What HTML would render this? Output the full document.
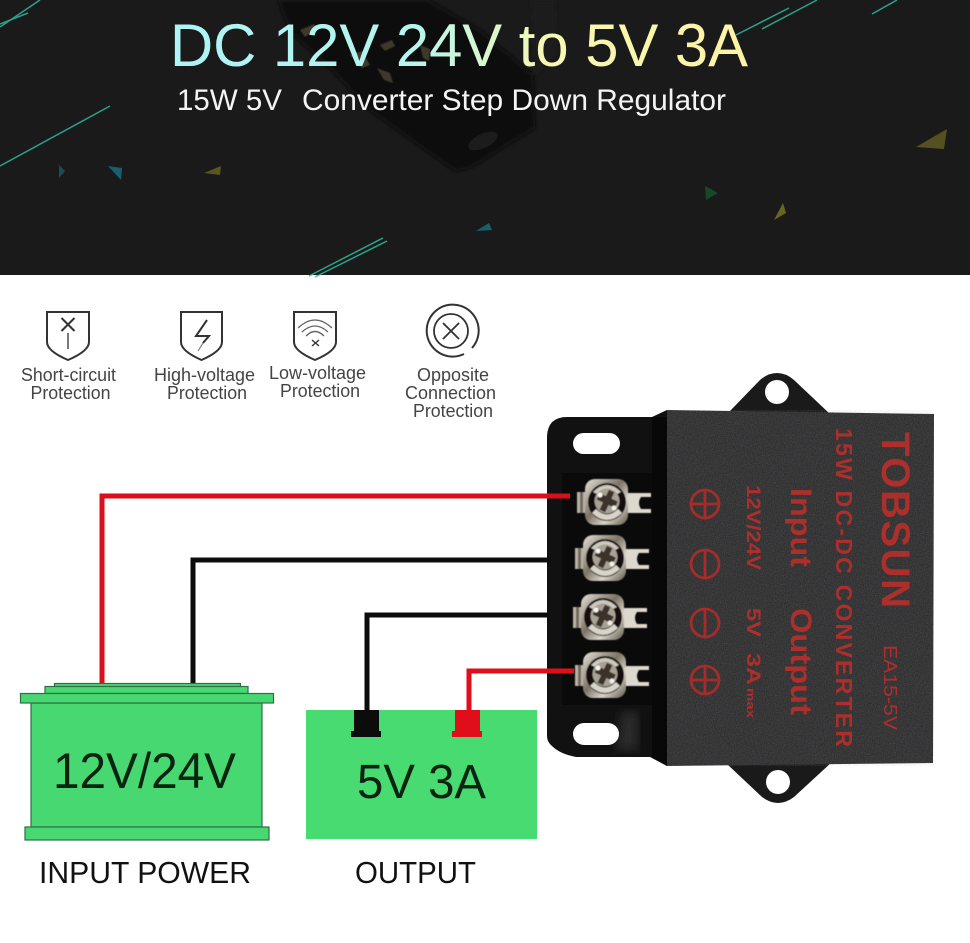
<!DOCTYPE html>
<html><head><meta charset="utf-8"><title>DC 12V 24V to 5V 3A</title>
<style>html,body{margin:0;padding:0;background:#fff}svg{display:block}
text{font-family:"Liberation Sans",sans-serif}</style></head>
<body>
<svg width="970" height="943" viewBox="0 0 970 943" xmlns="http://www.w3.org/2000/svg">
<defs>
<linearGradient id="tg" gradientUnits="userSpaceOnUse" x1="170" y1="0" x2="748" y2="0">
<stop offset="0" stop-color="#aef3f6"/><stop offset=".42" stop-color="#b6f5ee"/><stop offset=".65" stop-color="#f6f8b4"/><stop offset="1" stop-color="#fdf3a4"/></linearGradient>
<filter id="sp" x="0" y="0" width="100%" height="100%"><feTurbulence type="fractalNoise" baseFrequency=".9" numOctaves="2" seed="4"/><feColorMatrix values="0 0 0 0 .4 0 0 0 0 .4 0 0 0 0 .42 0 0 0 .35 -.1"/></filter>
<filter id="b1"><feGaussianBlur stdDeviation=".5"/></filter>
<filter id="b3"><feGaussianBlur stdDeviation="2"/></filter>
<filter id="b6"><feGaussianBlur stdDeviation="5"/></filter>
<linearGradient id="mt" x1="0" y1="0" x2="1" y2="1"><stop offset="0" stop-color="#e6e2d8"/><stop offset=".45" stop-color="#7d7365"/><stop offset=".7" stop-color="#d8d4ca"/><stop offset="1" stop-color="#5d5448"/></linearGradient>
<g id="term" filter="url(#b1)">
<rect x="-30" y="-10" width="13" height="21" fill="#b9b2a5"/>
<rect x="-27" y="-10" width="3" height="21" fill="#6f675b"/>
<path d="M20 -9H44V-5H34Q30 1 34 7H44V11H20Z" fill="#ddd9cf"/>
<rect x="-22" y="-23" width="43" height="46" rx="10" fill="url(#mt)"/>
<circle cx="0" cy="0" r="19" fill="#15110e"/>
<path d="M-15 11Q0 25 15 11L11 7Q0 18 -11 7Z" fill="#d8d4ca"/>
<path d="M-14 -10Q0 -24 14 -10L10 -8Q0 -18 -10 -8Z" fill="#cfcabf"/>
<circle cx="0" cy="-1" r="12.500" fill="#a8a295"/>
<path d="M-3 -12H3V-5H10V2H3V10H-3V2H-10V-5H-3Z" fill="#3a332b" transform="rotate(25 0 -1)"/>
<circle cx="-7" cy="-7" r="2.500" fill="#f6f4ee"/>
<circle cx="7" cy="6" r="2.500" fill="#f2efe8"/>
</g>
<g id="plus" fill="none" stroke="#a52c2a" stroke-width="2.800"><circle r="14"/><path d="M-14 0H14M0 -14V14"/></g>
<g id="minus" fill="none" stroke="#a52c2a" stroke-width="2.800"><circle r="14"/><path d="M0 -14V14"/></g>
</defs>

<!-- header -->
<rect width="970" height="275" fill="#1a1a1a"/>
<g filter="url(#b3)">
<path d="M532 0L555 0L556 55L535 75Z" fill="#1f1f1f"/>
<path d="M278 0L290 32L330 68L372 112L455 171L470 168L535 128L533 75L480 30L428 0Z" fill="#101010"/>
</g>
<ellipse cx="483" cy="141" rx="16" ry="7" fill="#1c1c1c" transform="rotate(-25 483 141)"/>
<g fill="#7a6e55" opacity=".45" filter="url(#b1)">
<path d="M300 30l14-6 3 5-12 8z"/><path d="M350 55l12-4 8 14-8 3z"/><path d="M380 45l12-5 3 6-10 5z"/>
<path d="M377 68l13 5 3 10-9-3z"/><path d="M420 45l10 4-1 12-6-3z"/>
</g>
<g stroke="#2fb096" stroke-width="1.500" fill="none" opacity=".9">
<path d="M0 166L110 106"/><path d="M309 276L383 238"/><path d="M315 277L387 241"/>
<path d="M762 29L817 0"/><path d="M736 35L789 8"/><path d="M872 14L897 0"/>
<path d="M0 27L40 0"/><path d="M0 24L28 13"/>
</g>
<path d="M916 147L947 129L944 149Z" fill="#55501f"/>
<path d="M59 165L65 171L59 178Z" fill="#174f58"/>
<path d="M108 166L122 168L121 180Z" fill="#17606b"/>
<path d="M204 173L221 166L220 175Z" fill="#5b5522"/>
<path d="M705 186L718 193L706 200Z" fill="#17482a"/>
<path d="M783 203L786 213L774 220Z" fill="#6a6524"/>
<path d="M476 231L489 223L492 230Z" fill="#17606b"/>
<text x="170" y="66" font-size="60" fill="url(#tg)" textLength="578" lengthAdjust="spacingAndGlyphs">DC 12V 24V to 5V 3A</text>
<text x="177" y="110" font-size="30" fill="#f4f4f4" textLength="105" lengthAdjust="spacingAndGlyphs">15W 5V</text>
<text x="302" y="110" font-size="30" fill="#f4f4f4" textLength="424" lengthAdjust="spacingAndGlyphs">Converter Step Down Regulator</text>

<!-- icons -->
<g fill="none" stroke="#333" stroke-width="2">
<path d="M47 312H89V342Q89 351 68 360Q47 351 47 342Z"/>
<path d="M61.500 318L74.500 331M74.500 318L61.500 331"/>
<path d="M68 333V349" stroke-width="1.300"/>
<path d="M181 312H222V342Q222 351 201.500 360Q181 351 181 342Z"/>
<path d="M207 320L196 336H209L203 343" stroke-width="2"/>
<path d="M203 343L198 351" stroke-width="1.200" stroke="#888"/>
<path d="M294 312H336V342Q336 351 315 360Q294 351 294 342Z"/>
<g stroke-width="1.300" stroke="#666"><path d="M298 328Q315 312 332 328"/><path d="M302 332Q315 320 328 332"/><path d="M306 336Q315 327 324 336"/></g>
<path d="M312 340L319 346M319 340L312 346" stroke-width="1.400"/>
<path d="M464 354A26 26 0 1 1 472 348" stroke-width="2"/>
<circle cx="451" cy="331" r="17" stroke-width="1.800"/>
<path d="M443 323L459 339M459 323L443 339" stroke-width="1.800"/>
</g>
<g font-size="18" fill="#444" text-anchor="middle">
<text x="68.500" y="381" textLength="95" lengthAdjust="spacingAndGlyphs">Short-circuit</text>
<text x="70.500" y="399" textLength="80" lengthAdjust="spacingAndGlyphs">Protection</text>
<text x="204.500" y="381" textLength="101" lengthAdjust="spacingAndGlyphs">High-voltage</text>
<text x="207" y="399" textLength="80" lengthAdjust="spacingAndGlyphs">Protection</text>
<text x="317.500" y="379" textLength="97" lengthAdjust="spacingAndGlyphs">Low-voltage</text>
<text x="320" y="397" textLength="80" lengthAdjust="spacingAndGlyphs">Protection</text>
<text x="453" y="381" textLength="72" lengthAdjust="spacingAndGlyphs">Opposite</text>
<text x="450.500" y="399" textLength="91" lengthAdjust="spacingAndGlyphs">Connection</text>
<text x="453" y="417" textLength="80" lengthAdjust="spacingAndGlyphs">Protection</text>
</g>

<!-- device -->
<path d="M730 411L760 380Q768 373 777 373Q786 373 794 380L830 414Z" fill="#1a1a1a"/>
<path d="M727 764L762 797Q770 803 778 803Q786 803 794 797L832 762Z" fill="#1a1a1a"/>
<path d="M547 436Q548 417 567 417H652L667 410V766L650 757H576Q560 754 552 746Q547 742 547 736Z" fill="#111"/>
<rect x="562" y="473" width="105" height="232" fill="#0a0a0a"/>
<path d="M652 417H667V766L652 757Z" fill="#080808"/>
<path d="M622 712H638V750H616Z" fill="#2a2a2a" filter="url(#b6)"/>
<path d="M667 410L934 414L933 763L667 766Z" fill="#2e2e2f"/>
<path d="M667 410L934 414L933 763L667 766Z" filter="url(#sp)"/>
<rect x="573" y="433" width="47" height="21" rx="10.500" fill="#fff"/>
<rect x="573" y="723" width="46" height="22" rx="11" fill="#fff"/>
<circle cx="777" cy="392" r="12" fill="#fff"/>
<circle cx="778" cy="782" r="12" fill="#fff"/>
<use href="#term" x="607" y="502"/>
<use href="#term" x="605" y="558"/>
<use href="#term" x="603" y="617"/>
<use href="#term" x="605" y="675"/>
<use href="#plus" x="705" y="504"/>
<use href="#minus" x="705" y="564"/>
<use href="#minus" x="705" y="623"/>
<use href="#plus" x="705" y="680"/>
<g fill="#ad2f2c" font-weight="bold">
<text transform="translate(882 432) rotate(90)" font-size="40" textLength="176">TOBSUN</text>
<text transform="translate(836 428) rotate(90)" font-size="23" textLength="319">15W DC-DC CONVERTER</text>
<text transform="translate(791 488) rotate(90)" font-size="30" textLength="79" lengthAdjust="spacingAndGlyphs">Input</text>
<text transform="translate(791 608) rotate(90)" font-size="30" textLength="107" lengthAdjust="spacingAndGlyphs">Output</text>
<text transform="translate(747 485) rotate(90)" font-size="19" textLength="85" lengthAdjust="spacingAndGlyphs">12V/24V</text>
<text transform="translate(747 608) rotate(90)" font-size="19" textLength="29" lengthAdjust="spacingAndGlyphs">5V</text>
<text transform="translate(747 653) rotate(90)" font-size="19" textLength="32" lengthAdjust="spacingAndGlyphs">3A</text>
<text transform="translate(747 688) rotate(90)" font-size="11" textLength="30" lengthAdjust="spacingAndGlyphs">max</text>
<text transform="translate(884 645) rotate(90)" font-size="18" textLength="85" lengthAdjust="spacingAndGlyphs" style="font-weight:normal">EA15-5V</text>
</g>

<!-- wires -->
<g fill="none" stroke-width="5">
<path d="M102 684V496H570" stroke="#d90f1c"/>
<path d="M193 684V560H549" stroke="#0c0c0c"/>
<path d="M367 712V615H549" stroke="#0c0c0c"/>
<path d="M469 712V671H574" stroke="#e00d1a"/>
</g>

<!-- battery -->
<g fill="#48d871" stroke="#2f6f48" stroke-width="1.200">
<rect x="54.500" y="683.500" width="186" height="4"/>
<rect x="45" y="686.500" width="203" height="7"/>
<rect x="31" y="703" width="231" height="124"/>
<rect x="20.500" y="693.500" width="253" height="9.500"/>
<rect x="25" y="827" width="244" height="13"/>
</g>
<rect x="306" y="710" width="231" height="129" fill="#48db72"/>
<path d="M354 710H379V731H381V737H351V731H354Z" fill="#0c0c0c"/>
<path d="M455 710H480V731H482V737H452V731H455Z" fill="#e00d1a"/>
<text x="53" y="788" font-size="50" fill="#0a2411" textLength="183" lengthAdjust="spacingAndGlyphs">12V/24V</text>
<text x="357" y="798" font-size="48" fill="#0a2411" textLength="129" lengthAdjust="spacingAndGlyphs">5V 3A</text>
<text x="39" y="883" font-size="31" fill="#111" textLength="212" lengthAdjust="spacingAndGlyphs">INPUT POWER</text>
<text x="355" y="883" font-size="31" fill="#111" textLength="121" lengthAdjust="spacingAndGlyphs">OUTPUT</text>
</svg>
</body></html>
